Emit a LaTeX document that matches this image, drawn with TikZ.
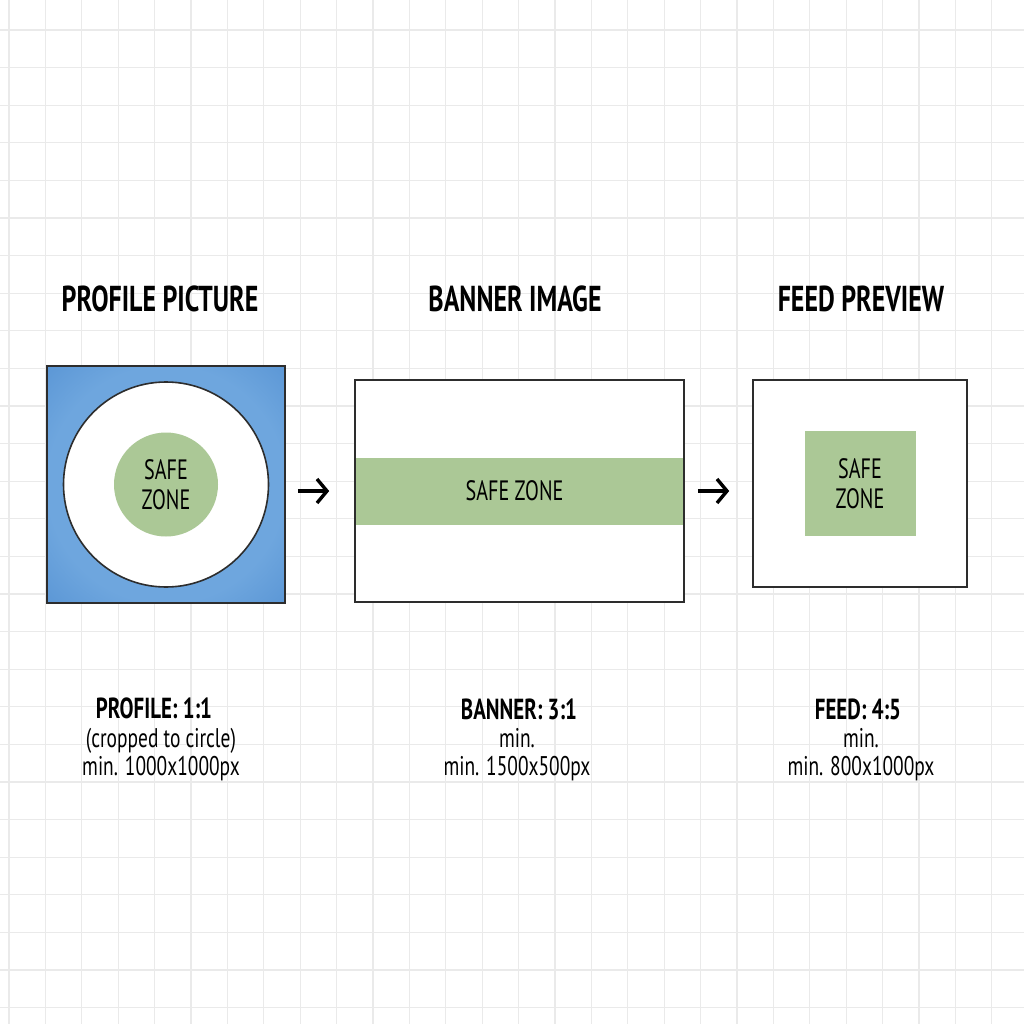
\documentclass[tikz,border=0pt]{standalone}
\usepackage{fontspec}
\setmainfont{PT Sans}
\newfontfamily\narrowfont[FakeStretch=0.72]{PT Sans}
\usetikzlibrary{arrows.meta,positioning}
\definecolor{gridline}{RGB}{234,234,234}
\definecolor{safegreen}{RGB}{171,200,150}
\definecolor{framegray}{RGB}{45,45,45}
\definecolor{blueinner}{RGB}{110,166,222}
\definecolor{bluemid}{RGB}{66,130,202}
\definecolor{blueouter}{RGB}{28,90,180}
\pgfdeclareradialshading{profileglow}{\pgfpoint{0bp}{0bp}}{color(0bp)=(blueinner); color(25bp)=(blueinner); color(50bp)=(bluemid); color(72bp)=(blueouter)}

\begin{document}
\begin{tikzpicture}[x=1pt,y=-1pt,
    frame/.style={draw=framegray,line width=1.6pt,inner sep=0pt},
    zone/.style={fill=safegreen,inner sep=0pt,align=center,font=\narrowfont\fontsize{28}{30}\selectfont},
    heading/.style={font=\narrowfont\bfseries\fontsize{36}{40}\selectfont},
    spec/.style={font=\narrowfont\bfseries\fontsize{29}{32}\selectfont},
    note/.style={align=center,font=\narrowfont\fontsize{27}{28}\selectfont},
    flow/.style={-{Straight Barb[length=10pt,width=24pt]},line width=3.4pt}]
    % paper and grid
    \fill[white] (0,0) rectangle (1024,1024);
    \useasboundingbox (0,0) rectangle (1024,1024);
    \foreach \i in {0,...,27} {
        \draw[gridline,line width=1.3pt] ({9+36.4*\i},0) -- ({9+36.4*\i},1024);
    }
    \foreach \j in {0,...,26} {
        \draw[gridline,line width=1.3pt] (0,{30+37.6*\j}) -- (1024,{30+37.6*\j});
    }

    % profile picture
    \node[frame,shading=profileglow,minimum width=238pt,minimum height=237pt] (profile) at (166,484.5) {};
    \node[circle,draw=framegray,line width=1.6pt,fill=white,minimum size=205pt,inner sep=0pt] (crop) at (profile.center) {};
    \node[zone,circle,minimum size=104pt] (profilesafe) at (profile.center) {SAFE\\ZONE};

    % banner image
    \node[frame,fill=white,minimum width=329pt,minimum height=222pt] (banner) at (519.5,491) {};
    \node[zone,minimum width=327pt,minimum height=67pt] (bannersafe) at (banner.center) {};
    \node[font=\narrowfont\fontsize{28}{30}\selectfont] (bannerlabel) at (514.5,491) {SAFE ZONE};

    % feed preview
    \node[frame,fill=white,minimum width=214pt,minimum height=207pt] (feed) at (860,483.5) {};
    \node[zone,minimum width=111pt,minimum height=105pt] (feedsafe) at (feed.center) {SAFE\\ZONE};

    \draw[flow,shorten <=12pt,shorten >=25pt] (profile.east |- banner.west) -- (banner.west);
    \draw[flow,shorten <=13pt,shorten >=23pt] (banner.east) -- (banner.east -| feed.west);

    % titles
    \node[heading] (profiletitle) at (160,299) {PROFILE PICTURE};
    \node[heading] (bannertitle) at (515,299) {BANNER IMAGE};
    \node[heading] (feedtitle) at (861,299) {FEED PREVIEW};

    % specs
    \node[spec] (profilespec) at (154,708) {PROFILE: 1:1};
    \node[note] (profilenote) at (161,755) {(cropped to circle)\\min. 1000x1000px};
    \node[spec] (bannerspec) at (519,709) {BANNER: 3:1};
    \node[note] (bannernote) at (517,755) {min.\\min. 1500x500px};
    \node[spec] (feedspec) at (858,709) {FEED: 4:5};
    \node[note] (feednote) at (861,755) {min.\\min. 800x1000px};
\end{tikzpicture}
\end{document}
